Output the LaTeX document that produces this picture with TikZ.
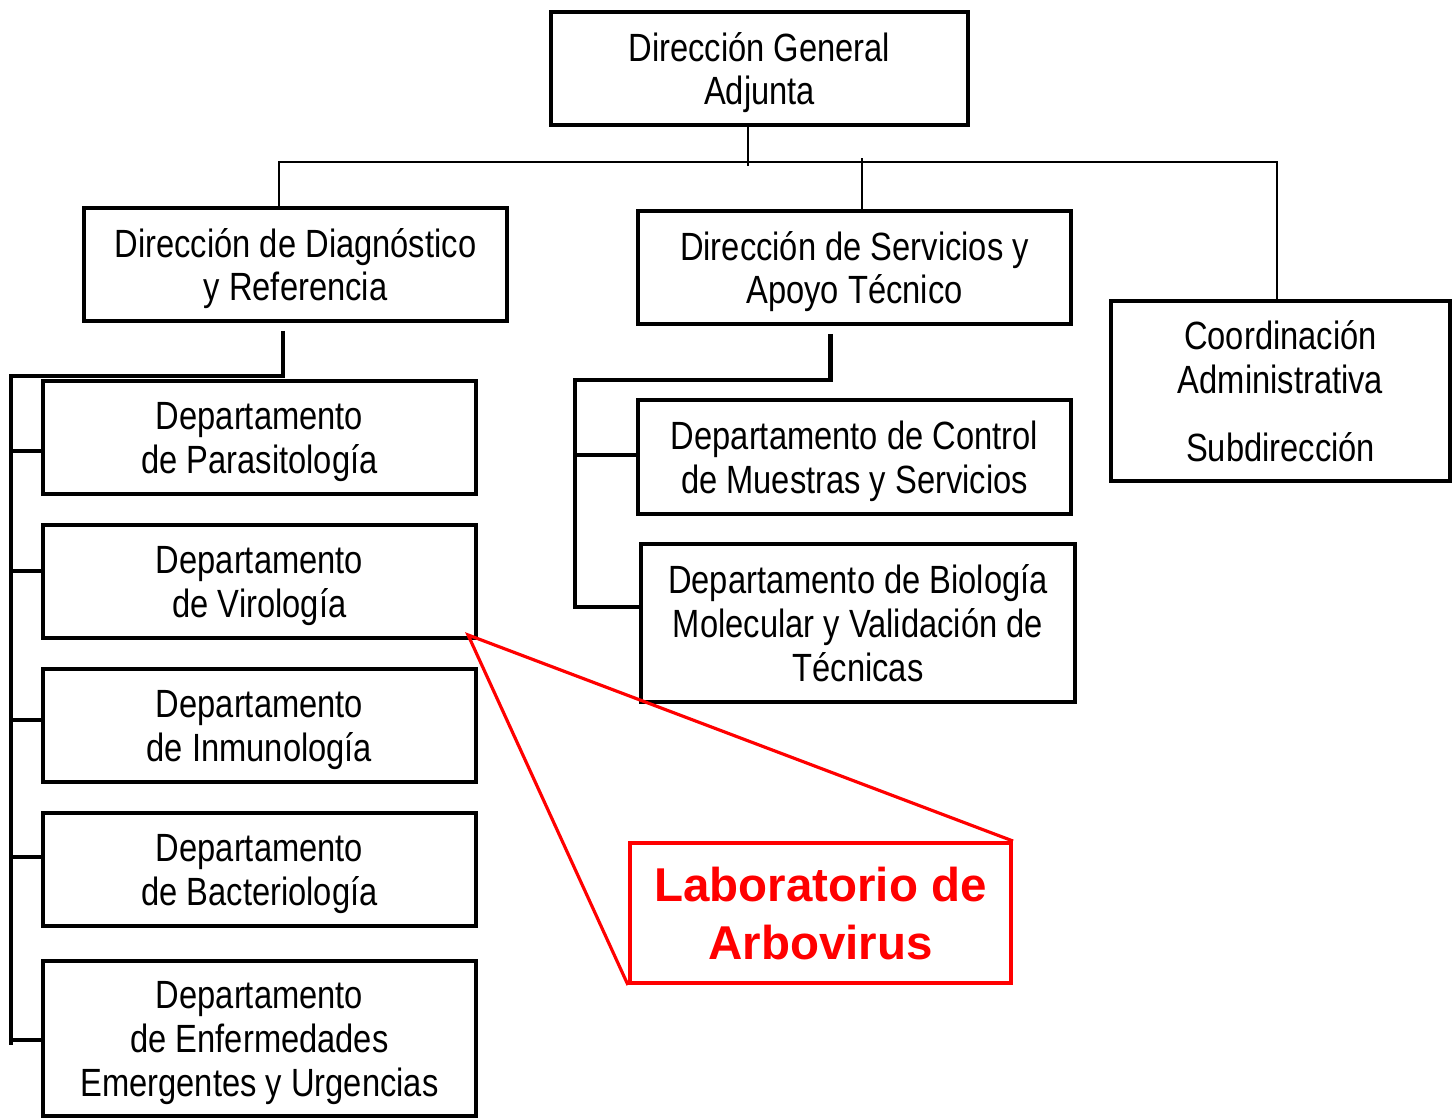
\documentclass[tikz,border=0pt]{standalone}
\usepackage{fontspec}
\setmainfont{Liberation Sans}[FakeStretch=0.83]
\newfontfamily\labfont{Liberation Sans}
\usepackage{tikz}

\definecolor{labred}{RGB}{255,0,0}
\tikzset{
    unit/.style={draw, line width=1.1pt, align=center, inner sep=0pt, text depth=-0.5pt,
        font=\fontsize{11.2}{12.5}\selectfont},
    bus/.style={line width=0.6pt},
    tree/.style={line width=1.2pt},
    labline/.style={draw=labred, line width=0.9pt},
}

\begin{document}
\begin{tikzpicture}[x=0.01cm, y=-0.01cm]
    \useasboundingbox (0,0) rectangle (1452,1118);

    % Define top boxes
    \node[unit, minimum width=4.17cm, minimum height=1.13cm] (dga) at (759.5,68.5) {Dirección General\\Adjunta};
    \node[unit, minimum width=4.23cm, minimum height=1.13cm] (ddr) at (295.5,264.5) {Dirección de Diagnóstico\\y Referencia};
    \node[unit, minimum width=4.33cm, minimum height=1.13cm] (dsat) at (854.5,267.5) {Dirección de Servicios y\\Apoyo Técnico};
    \node[unit, minimum width=3.39cm, minimum height=1.80cm] (ca) at (1280.5,391) {Coordinación\\Administrativa\\[6.8pt]Subdirección};

    % Define departments
    \foreach \i/\y/\h/\txt in {1/437.5/1.13/{Departamento\\de Parasitología},
                               2/581.5/1.13/{Departamento\\de Virología},
                               3/725.5/1.13/{Departamento\\de Inmunología},
                               4/869.5/1.13/{Departamento\\de Bacteriología},
                               5/1038.5/1.55/{Departamento\\de Enfermedades\\Emergentes y Urgencias}} {
        \node[unit, text depth=-1.5pt, minimum width=4.33cm, minimum height=\h cm] (dep\i) at (259.5,\y) {\txt};
    }
    \node[unit, minimum width=4.33cm, minimum height=1.14cm] (ctrl) at (854.5,457) {Departamento de Control\\de Muestras y Servicios};
    \node[unit, minimum width=4.34cm, minimum height=1.58cm] (biol) at (858,623) {Departamento de Biología\\Molecular y Validación de\\Técnicas};

    % Laboratory
    \node[unit, draw=labred, text=labred, text depth=-1.1pt, minimum width=3.81cm, minimum height=1.40cm,
        font={\labfont\bfseries\fontsize{13.5}{16.5}\selectfont}] (lab) at (820.5,913) {Laboratorio de\\Arbovirus};

    % Connect the top level
    \draw[bus] ([xshift=-0.115cm]dga.south) -- ++(0,39);
    \draw[bus] ([xshift=-0.165cm]ddr.north) -- ++(0,-44) -| ([xshift=-0.035cm,yshift=-0.04cm]ca.north);
    \draw[bus] ([xshift=0.075cm]dsat.north) -- ++(0,-51);

    % Left branch
    \draw[tree] ([xshift=-0.125cm,yshift=-0.08cm]ddr.south) -- ++(0,45) -| (11,1045);
    \foreach \i/\by in {1/451,2/571,3/720,4/857,5/1040} {
        \draw[tree] (11,\by) -- (dep\i.west |- 11,\by);
    }

    % Middle branch
    \draw[tree] ([xshift=-0.24cm,yshift=-0.08cm]dsat.south) -- ++(0,46) -| (575,607) -- (biol.west |- 575,607);
    \draw[tree] (575,455) -- (ctrl.west |- 575,455);

    % Zoom lines
    \coordinate (apex) at ([xshift=-0.1cm,yshift=0.05cm]dep2.south east);
    \draw[labline] (lab.north east) -- (apex) -- (lab.south west);

\end{tikzpicture}
\end{document}
